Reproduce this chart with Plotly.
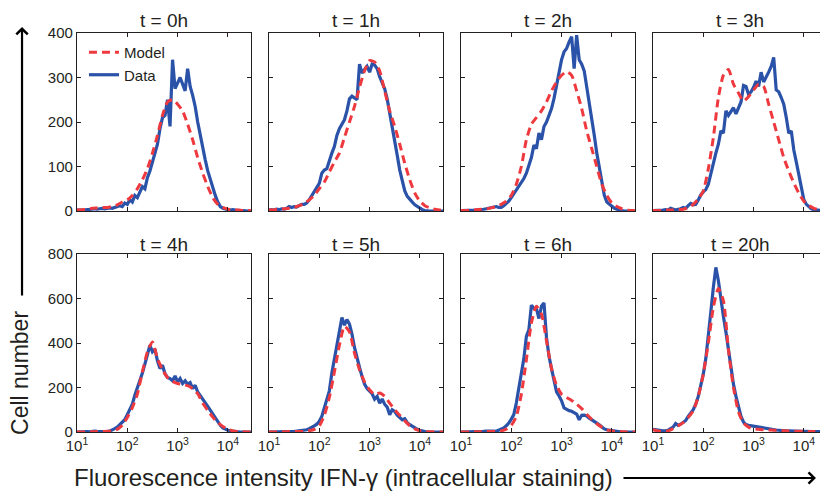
import plotly.graph_objects as go
from plotly.subplots import make_subplots

# bin centres, log10 of fluorescence intensity
LOG_FL_DATA = [1.00, 1.05, 1.10, 1.15, 1.20, 1.25, 1.30, 1.35, 1.40, 1.45,
               1.50, 1.55, 1.60, 1.65, 1.70, 1.75, 1.80, 1.85, 1.90, 1.95,
               2.00, 2.05, 2.10, 2.15, 2.20, 2.25, 2.30, 2.35, 2.40, 2.45,
               2.50, 2.55, 2.60, 2.65, 2.70, 2.75, 2.80, 2.85, 2.90, 2.95,
               3.00, 3.05, 3.10, 3.15, 3.20, 3.25, 3.30, 3.35, 3.40, 3.45,
               3.50, 3.55, 3.60, 3.65, 3.70, 3.75, 3.80, 3.85, 3.90, 3.95,
               4.00, 4.05, 4.10, 4.15, 4.20, 4.25, 4.30, 4.35, 4.40, 4.45,
               4.50]
LOG_FL_MODEL = [1.0, 1.1, 1.2, 1.3, 1.4, 1.5, 1.6, 1.7, 1.8, 1.9,
                2.0, 2.1, 2.2, 2.3, 2.4, 2.5, 2.6, 2.7, 2.8, 2.9,
                3.0, 3.1, 3.2, 3.3, 3.4, 3.5, 3.6, 3.7, 3.8, 3.9,
                4.0, 4.1, 4.2, 4.3, 4.4, 4.5]

TIMES = ["0h", "1h", "2h", "3h", "4h", "5h", "6h", "20h"]

DATA_0H = [2, 2, 1, 2, 3, 3, 4, 5, 4, 5, 6, 5, 6, 7, 6, 8, 10, 12, 10, 18,
           15, 25, 20, 35, 30, 45, 55, 50, 75, 90, 110, 135, 150, 185, 210, 215, 250, 190, 340, 275,
           290, 300, 285, 270, 320, 280, 260, 235, 200, 170, 140, 115, 90, 70, 50, 35, 20, 10, 6, 4,
           3, 2, 3, 2, 1, 1, 1, 0, 0, 0, 0]
DATA_1H = [2, 3, 2, 4, 3, 5, 4, 6, 10, 8, 10, 9, 12, 15, 15, 18, 25, 35, 45, 55,
           62, 85, 92, 95, 115, 130, 145, 170, 185, 195, 205, 225, 252, 258, 255, 250, 330, 310, 318, 325,
           312, 330, 328, 320, 302, 288, 275, 252, 222, 190, 155, 125, 92, 65, 45, 33, 25, 20, 14, 10,
           6, 3, 1, 0, 0, 0, 0, 0, 0, 0, 0]
DATA_2H = [1, 1, 1, 1, 2, 2, 2, 3, 3, 4, 5, 6, 7, 8, 10, 8, 8, 12, 17, 22,
           30, 38, 47, 55, 62, 73, 85, 105, 120, 148, 140, 175, 160, 190, 200, 215, 230, 253, 280, 305,
           340, 358, 365, 380, 392, 320, 395, 340, 330, 315, 280, 250, 210, 170, 130, 95, 65, 35, 20, 15,
           10, 6, 4, 2, 1, 0, 0, 0, 0, 0, 0]
DATA_3H = [1, 1, 2, 1, 2, 3, 2, 6, 3, 2, 4, 5, 8, 6, 12, 17, 14, 15, 25, 36,
           43, 48, 60, 85, 108, 130, 150, 180, 175, 225, 215, 225, 232, 218, 232, 245, 282, 280, 262, 268,
           278, 292, 280, 312, 290, 300, 312, 325, 345, 272, 268, 255, 240, 210, 175, 180, 137, 110, 80, 50,
           25, 15, 10, 5, 3, 2, 1, 0, 0, 0, 0]
DATA_4H = [0, 1, 0, 1, 2, 1, 3, 4, 3, 2, 4, 3, 2, 4, 8, 15, 22, 33, 45, 55,
           78, 100, 125, 165, 195, 230, 265, 305, 345, 390, 360, 372, 320, 285, 300, 262, 245, 240, 230, 252,
           225, 240, 218, 230, 215, 222, 195, 210, 180, 165, 150, 135, 115, 98, 80, 65, 48, 30, 18, 12,
           8, 5, 3, 2, 1, 0, 0, 0, 0, 0, 0]
DATA_5H = [0, 0, 1, 0, 1, 2, 1, 2, 3, 2, 3, 4, 5, 6, 8, 10, 15, 20, 28, 35,
           48, 70, 105, 145, 185, 265, 325, 395, 455, 515, 480, 505, 485, 440, 380, 330, 290, 250, 215, 195,
           185, 172, 148, 160, 130, 148, 125, 112, 78, 100, 93, 75, 65, 55, 60, 42, 33, 25, 18, 12,
           8, 4, 2, 1, 0, 0, 0, 0, 0, 0, 0]
DATA_6H = [0, 0, 1, 0, 1, 1, 2, 1, 2, 3, 4, 5, 6, 4, 3, 8, 14, 18, 28, 40,
           58, 78, 130, 200, 260, 330, 430, 460, 570, 555, 555, 510, 565, 580, 425, 340, 285, 230, 180, 162,
           140, 108, 100, 96, 93, 88, 80, 55, 75, 76, 72, 62, 56, 48, 40, 32, 22, 14, 10, 8,
           5, 3, 1, 0, 0, 0, 0, 0, 0, 0, 0]
DATA_20H = [12, 10, 8, 6, 5, 6, 8, 15, 22, 38, 30, 35, 45, 52, 70, 85, 100, 125, 160, 210,
            260, 330, 450, 540, 650, 740, 680, 590, 520, 450, 370, 280, 215, 160, 110, 70, 45, 33, 30, 28,
            24, 22, 20, 18, 16, 14, 13, 11, 10, 9, 8, 6, 6, 5, 5, 4, 4, 4, 3, 3,
            3, 2, 2, 2, 2, 2, 2, 1, 1, 1, 1]

MODEL_0H = [2, 3, 4, 6, 7, 8, 8, 10, 14, 20, 25, 35, 50, 70, 95, 130, 170, 215, 245, 250,
            240, 225, 195, 160, 120, 85, 55, 30, 15, 8, 4, 2, 2, 1, 1, 0]
MODEL_1H = [2, 3, 4, 5, 6, 8, 12, 17, 25, 35, 50, 65, 88, 110, 130, 165, 200, 235, 278, 315,
            338, 335, 315, 270, 225, 190, 150, 107, 70, 40, 22, 12, 7, 4, 2, 1]
MODEL_2H = [1, 1, 2, 3, 4, 5, 7, 10, 15, 22, 35, 60, 100, 160, 195, 210, 225, 245, 270, 290,
            305, 313, 305, 270, 230, 180, 140, 100, 60, 35, 18, 10, 5, 2, 1, 0]
MODEL_3H = [1, 1, 1, 2, 2, 3, 4, 7, 15, 27, 45, 95, 165, 255, 305, 318, 285, 265, 247, 257,
            272, 285, 280, 240, 200, 160, 120, 90, 63, 40, 22, 12, 6, 3, 1, 0]
MODEL_4H = [0, 0, 1, 1, 2, 2, 3, 4, 12, 30, 65, 110, 170, 270, 360, 405, 330, 280, 245, 228,
            218, 213, 208, 195, 172, 130, 97, 67, 42, 25, 12, 5, 2, 1, 0, 0]
MODEL_5H = [0, 0, 1, 1, 2, 2, 2, 3, 6, 12, 28, 75, 155, 270, 390, 475, 450, 355, 280, 225,
            190, 168, 175, 160, 130, 100, 75, 50, 28, 14, 6, 3, 1, 0, 0, 0]
MODEL_6H = [0, 0, 0, 1, 1, 2, 2, 3, 5, 13, 30, 70, 170, 325, 490, 565, 530, 410, 285, 210,
            170, 155, 142, 125, 105, 80, 57, 37, 22, 10, 5, 2, 1, 0, 0, 0]
MODEL_20H = [10, 5, 3, 5, 15, 28, 42, 65, 95, 160, 260, 400, 560, 645, 590, 370, 200, 90, 40, 22,
             14, 12, 10, 9, 8, 7, 6, 5, 4, 3, 3, 2, 2, 1, 1, 1]

DATA = [DATA_0H, DATA_1H, DATA_2H, DATA_3H, DATA_4H, DATA_5H, DATA_6H, DATA_20H]
MODEL = [MODEL_0H, MODEL_1H, MODEL_2H, MODEL_3H, MODEL_4H, MODEL_5H, MODEL_6H, MODEL_20H]

X_TICKS = [10, 100, 1000, 10000]
X_TICKTEXT = ["10<sup>1</sup>", "10<sup>2</sup>", "10<sup>3</sup>", "10<sup>4</sup>"]

BLUE = "#2A52A8"
RED = "#EE3A3F"
INK = "#231F20"
FONT = "Liberation Sans, Arial, sans-serif"

fig = make_subplots(
    rows=2, cols=4,
    subplot_titles=[f"t = {t}" for t in TIMES],
    horizontal_spacing=18 / 750,
    vertical_spacing=43 / 399,
)

x_data = [10 ** v for v in LOG_FL_DATA]
x_model = [10 ** v for v in LOG_FL_MODEL]

for i in range(8):
    row, col = i // 4 + 1, i % 4 + 1
    fig.add_trace(go.Scatter(
        x=x_data, y=DATA[i], mode="lines", name="Data",
        line=dict(color=BLUE, width=3.2),
        legendrank=2, showlegend=(i == 0),
    ), row=row, col=col)
    fig.add_trace(go.Scatter(
        x=x_model, y=MODEL[i], mode="lines", name="Model",
        line=dict(color=RED, width=3, dash="8px,5px", shape="spline", smoothing=0.6),
        legendrank=1, showlegend=(i == 0),
    ), row=row, col=col)

    fig.update_xaxes(
        type="log", range=[1, 4.46], automargin=False,
        tickvals=X_TICKS, ticktext=X_TICKTEXT,
        showticklabels=(row == 2),
        ticks="inside", ticklen=4, tickcolor=INK,
        showline=True, linecolor=INK, linewidth=1.3, mirror="ticks",
        showgrid=False, zeroline=False,
        tickfont=dict(size=15, color=INK),
        row=row, col=col,
    )
    fig.update_yaxes(
        range=[0, 400] if row == 1 else [0, 800], automargin=False,
        dtick=100 if row == 1 else 200,
        showticklabels=(col == 1),
        ticks="inside", ticklen=4, tickcolor=INK,
        showline=True, linecolor=INK, linewidth=1.3, mirror="ticks",
        showgrid=False, zeroline=False,
        tickfont=dict(size=15, color=INK),
        row=row, col=col,
    )

for k, ann in enumerate(fig.layout.annotations):
    ann.font = dict(size=19, color=INK, family=FONT)
    if k >= 4:
        ann.yshift = -3

# paper coords below are relative to the plot area (750 x 399 px)
fig.add_annotation(
    text="Cell number", textangle=-90, showarrow=False,
    xref="paper", yref="paper", x=-0.076, y=0.148,
    xanchor="center", yanchor="middle",
    font=dict(size=23, color=INK),
)
fig.add_annotation(
    text="", showarrow=True, arrowhead=4, arrowsize=1, arrowwidth=2.2,
    arrowcolor="black", standoff=0,
    xref="paper", yref="paper", x=-0.0733, y=1.015, ax=0, ay=270,
)
fig.add_annotation(
    text="Fluorescence intensity IFN-γ (intracellular staining)", showarrow=False,
    xref="paper", yref="paper", x=0.3547, y=-0.1128,
    xanchor="center", yanchor="middle",
    font=dict(size=24, color=INK),
)
fig.add_annotation(
    text="", showarrow=True, arrowhead=4, arrowsize=1, arrowwidth=2.2,
    arrowcolor="black", standoff=0,
    xref="paper", yref="paper", x=0.9853, y=-0.1153, ax=-194, ay=0,
)

# the page adds an 8 px offset, so the plot area sits at 77..827 x 33..432 on screen
fig.update_layout(
    width=828, height=499,
    margin=dict(l=69, r=9, t=25, b=75, autoexpand=False),
    plot_bgcolor="white", paper_bgcolor="white",
    font=dict(family=FONT, color=INK),
    legend=dict(
        x=0.0093, y=0.9925, xanchor="left", yanchor="top",
        bgcolor="rgba(0,0,0,0)", font=dict(size=15, color=INK),
        tracegroupgap=0, itemwidth=30,
    ),
)

fig.write_html("out.html")
